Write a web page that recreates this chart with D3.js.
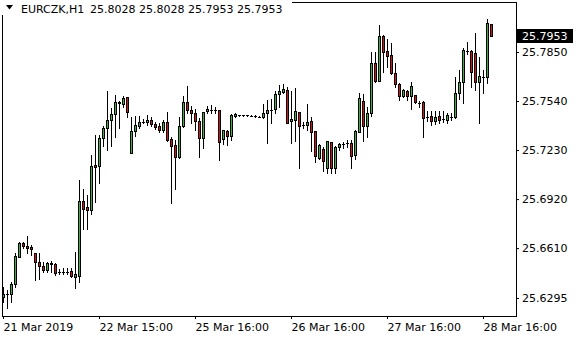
<!DOCTYPE html>
<html>
<head>
<meta charset="utf-8">
<script src="https://cdn.jsdelivr.net/npm/d3@7"></script>
<style>
    body { margin: 0; background: #fff; }
    svg { display: block; font-family: "DejaVu Sans", sans-serif; font-size: 11px; }
    .tick line { stroke: #000; }
    .tick text { fill: #000; }
</style>
</head>
<body>
<div id="chart-container"></div>
<script>
// EURCZK H1 candles
let open = [
    25.6300, 25.6319, 25.6319, 25.6382, 25.6557, 25.6641, 25.6624, 25.6620, 25.6582, 25.6525,
    25.6500, 25.6473, 25.6509, 25.6511, 25.6462, 25.6462, 25.6460, 25.6464, 25.6430, 25.6437,
    25.6909, 25.6871, 25.6854, 25.7134, 25.7130, 25.7305, 25.7372, 25.7419, 25.7457, 25.7528,
    25.7522, 25.7564, 25.7210, 25.7351, 25.7385, 25.7408, 25.7410, 25.7421, 25.7397, 25.7383,
    25.7356, 25.7406, 25.7299, 25.7261, 25.7183, 25.7381, 25.7532, 25.7484, 25.7463, 25.7412,
    25.7309, 25.7479, 25.7486, 25.7484, 25.7482, 25.7299, 25.7351, 25.7321, 25.7446, 25.7450,
    25.7450, 25.7450, 25.7446, 25.7446, 25.7441, 25.7438, 25.7463, 25.7484, 25.7488, 25.7583,
    25.7596, 25.7610, 25.7412, 25.7421, 25.7469, 25.7391, 25.7391, 25.7412, 25.7351, 25.7179,
    25.7237, 25.7119, 25.7280, 25.7119, 25.7248, 25.7267, 25.7273, 25.7277, 25.7201, 25.7347,
    25.7541, 25.7385, 25.7463, 25.7783, 25.7669, 25.7951, 25.7857, 25.7831, 25.7720, 25.7648,
    25.7572, 25.7604, 25.7574, 25.7577, 25.7530, 25.7534, 25.7441, 25.7446, 25.7414, 25.7446,
    25.7427, 25.7423, 25.7441, 25.7438, 25.7589, 25.7663, 25.7855, 25.7855, 25.7846, 25.7663,
    25.7694, 25.7694, 25.8028
];
let high = [
    25.6365, 25.6346, 25.6399, 25.6580, 25.6648, 25.6651, 25.6689, 25.6631, 25.6582, 25.6578,
    25.6521, 25.6525, 25.6530, 25.6515, 25.6477, 25.6483, 25.6483, 25.6483, 25.6585, 25.7041,
    25.6983, 25.6947, 25.7199, 25.7326, 25.7326, 25.7385, 25.7604, 25.7495, 25.7579, 25.7543,
    25.7572, 25.7568, 25.7441, 25.7446, 25.7446, 25.7425, 25.7452, 25.7441, 25.7410, 25.7404,
    25.7421, 25.7469, 25.7315, 25.7294, 25.7441, 25.7574, 25.7636, 25.7511, 25.7488, 25.7431,
    25.7473, 25.7511, 25.7515, 25.7505, 25.7484, 25.7357, 25.7357, 25.7459, 25.7467, 25.7454,
    25.7452, 25.7452, 25.7449, 25.7450, 25.7446, 25.7520, 25.7547, 25.7551, 25.7604, 25.7642,
    25.7646, 25.7631, 25.7604, 25.7625, 25.7473, 25.7410, 25.7520, 25.7441, 25.7351, 25.7267,
    25.7252, 25.7290, 25.7283, 25.7256, 25.7277, 25.7283, 25.7292, 25.7294, 25.7357, 25.7593,
    25.7585, 25.7505, 25.7852, 25.7852, 25.8021, 25.7958, 25.7931, 25.7909, 25.7779, 25.7656,
    25.7617, 25.7610, 25.7663, 25.7579, 25.7543, 25.7543, 25.7478, 25.7478, 25.7479, 25.7478,
    25.7478, 25.7467, 25.7463, 25.7694, 25.7737, 25.7874, 25.7915, 25.7863, 25.7969, 25.7821,
    25.7737, 25.8057, 25.8028
];
let low = [
    25.6270, 25.6232, 25.6272, 25.6365, 25.6557, 25.6610, 25.6578, 25.6567, 25.6409, 25.6414,
    25.6456, 25.6458, 25.6456, 25.6441, 25.6447, 25.6445, 25.6447, 25.6430, 25.6357, 25.6399,
    25.6732, 25.6730, 25.6825, 25.6900, 25.7021, 25.7258, 25.7231, 25.7258, 25.7311, 25.7370,
    25.7505, 25.7441, 25.7210, 25.7321, 25.7368, 25.7400, 25.7389, 25.7383, 25.7362, 25.7343,
    25.7343, 25.7288, 25.6894, 25.6983, 25.7179, 25.7378, 25.7467, 25.7400, 25.7357, 25.7189,
    25.7242, 25.7467, 25.7467, 25.7467, 25.7168, 25.7269, 25.7263, 25.7294, 25.7441, 25.7446,
    25.7448, 25.7447, 25.7443, 25.7441, 25.7438, 25.7431, 25.7273, 25.7400, 25.7463, 25.7505,
    25.7589, 25.7404, 25.7277, 25.7290, 25.7119, 25.7368, 25.7357, 25.7227, 25.7157, 25.7176,
    25.7098, 25.7084, 25.7084, 25.7088, 25.7231, 25.7245, 25.7248, 25.7119, 25.7174, 25.7347,
    25.7288, 25.7315, 25.7446, 25.7659, 25.7669, 25.7726, 25.7757, 25.7711, 25.7631, 25.7547,
    25.7568, 25.7547, 25.7488, 25.7526, 25.7501, 25.7315, 25.7414, 25.7389, 25.7393, 25.7400,
    25.7410, 25.7404, 25.7421, 25.7435, 25.7551, 25.7526, 25.7836, 25.7627, 25.7610, 25.7400,
    25.7589, 25.7656, 25.7953
];
let close = [
    25.6319, 25.6320, 25.6382, 25.6561, 25.6641, 25.6626, 25.6610, 25.6603, 25.6525, 25.6500,
    25.6473, 25.6519, 25.6515, 25.6452, 25.6462, 25.6461, 25.6460, 25.6437, 25.6445, 25.6909,
    25.6858, 25.6854, 25.7130, 25.7125, 25.7305, 25.7372, 25.7419, 25.7457, 25.7532, 25.7536,
    25.7562, 25.7469, 25.7351, 25.7389, 25.7410, 25.7408, 25.7421, 25.7393, 25.7378, 25.7356,
    25.7406, 25.7294, 25.7256, 25.7185, 25.7381, 25.7532, 25.7484, 25.7463, 25.7412, 25.7305,
    25.7469, 25.7490, 25.7486, 25.7484, 25.7280, 25.7357, 25.7321, 25.7452, 25.7459, 25.7450,
    25.7450, 25.7449, 25.7446, 25.7446, 25.7441, 25.7463, 25.7484, 25.7484, 25.7583, 25.7602,
    25.7615, 25.7404, 25.7425, 25.7478, 25.7385, 25.7391, 25.7406, 25.7347, 25.7195, 25.7261,
    25.7162, 25.7286, 25.7119, 25.7248, 25.7267, 25.7267, 25.7273, 25.7195, 25.7351, 25.7558,
    25.7385, 25.7463, 25.7783, 25.7669, 25.7951, 25.7852, 25.7827, 25.7716, 25.7646, 25.7574,
    25.7610, 25.7574, 25.7636, 25.7532, 25.7530, 25.7431, 25.7441, 25.7414, 25.7441, 25.7423,
    25.7427, 25.7450, 25.7441, 25.7589, 25.7663, 25.7863, 25.7855, 25.7726, 25.7663, 25.7699,
    25.7694, 25.8032, 25.7953
];

let symbol = 'EURCZK,H1';
let priceTicks = [25.7850, 25.7540, 25.7230, 25.6920, 25.6610, 25.6295];
let timeTickIndex = [0, 24, 48, 72, 96, 120];
let timeTickLabels = ['21 Mar 2019', '22 Mar 15:00', '25 Mar 16:00', '26 Mar 16:00', '27 Mar 16:00', '28 Mar 16:00'];

let width = 580, height = 340;
let bullColor = '#3cb43c', bearColor = '#d21414';
let n = open.length;
let last = n - 1;

let svg = d3.select('#chart-container').append('svg')
    .attr('width', width)
    .attr('height', height);

// one bar every 4 px, price axis on the right
let x = d3.scaleLinear().domain([0, n - 1]).range([3, 3 + 4 * (n - 1)]);
let y = d3.scaleLinear().domain([25.6181, 25.8166]).range([316, 2]);

let plot = svg.append('g').attr('shape-rendering', 'crispEdges');

let candles = plot.selectAll('g.candle')
    .data(d3.range(n))
    .enter().append('g')
    .attr('class', 'candle');

// wicks
candles.append('line')
    .attr('x1', i => Math.round(x(i)) + 0.5)
    .attr('x2', i => Math.round(x(i)) + 0.5)
    .attr('y1', i => Math.round(y(high[i])))
    .attr('y2', i => Math.round(y(low[i])) + 1)
    .attr('stroke', '#000');

// bodies
candles.each(function (i) {
    let g = d3.select(this);
    let c = Math.round(x(i));
    let yTop = Math.round(y(Math.max(open[i], close[i])));
    let yBot = Math.round(y(Math.min(open[i], close[i])));
    if (yBot - yTop <= 1) {
        g.append('rect')
            .attr('x', c - 1).attr('y', yTop)
            .attr('width', 3).attr('height', yBot - yTop + 1)
            .attr('fill', '#000');
    } else {
        g.append('rect')
            .attr('x', c - 0.5).attr('y', yTop + 0.5)
            .attr('width', 2).attr('height', yBot - yTop)
            .attr('fill', close[i] > open[i] ? bullColor : bearColor)
            .attr('stroke', '#000');
    }
});

// frame
plot.append('rect')
    .attr('x', 2.5).attr('y', 2.5)
    .attr('width', 514).attr('height', 314)
    .attr('fill', 'none')
    .attr('stroke', '#000');

// price axis
let yAxis = svg.append('g')
    .attr('transform', 'translate(516,0)')
    .call(d3.axisRight(y)
        .tickValues(priceTicks)
        .tickSize(3)
        .tickPadding(3)
        .tickFormat(d3.format('.4f')));
yAxis.select('.domain').remove();
yAxis.attr('font-family', null).attr('font-size', null);

// time axis
let xAxis = svg.append('g')
    .attr('transform', 'translate(0,316)')
    .call(d3.axisBottom(x)
        .tickValues(timeTickIndex)
        .tickSize(3)
        .tickPadding(4)
        .tickFormat((d, i) => timeTickLabels[i]));
xAxis.select('.domain').remove();
xAxis.attr('font-family', null).attr('font-size', null);
xAxis.selectAll('.tick text').attr('text-anchor', 'start');

// current price marker
let yLast = y(close[last]);
svg.append('rect')
    .attr('x', 517).attr('y', Math.round(yLast) - 7)
    .attr('width', 56).attr('height', 14)
    .attr('fill', '#000');
svg.append('text')
    .attr('x', 522).attr('y', yLast)
    .attr('dy', '0.35em')
    .attr('fill', '#fff')
    .text(d3.format('.4f')(close[last]));

// header with last bar OHLC
svg.append('rect')
    .attr('x', 0).attr('y', 0)
    .attr('width', 292).attr('height', 15)
    .attr('fill', '#fff');
svg.append('path')
    .attr('d', 'M6,5 L13,5 L9.5,9.5 Z')
    .attr('fill', '#000');
svg.append('text')
    .attr('x', 21).attr('y', 13)
    .text(symbol);
svg.append('text')
    .attr('x', 90).attr('y', 13)
    .text([open[last], high[last], low[last], close[last]].map(d3.format('.4f')).join(' '));
</script>
</body>
</html>
